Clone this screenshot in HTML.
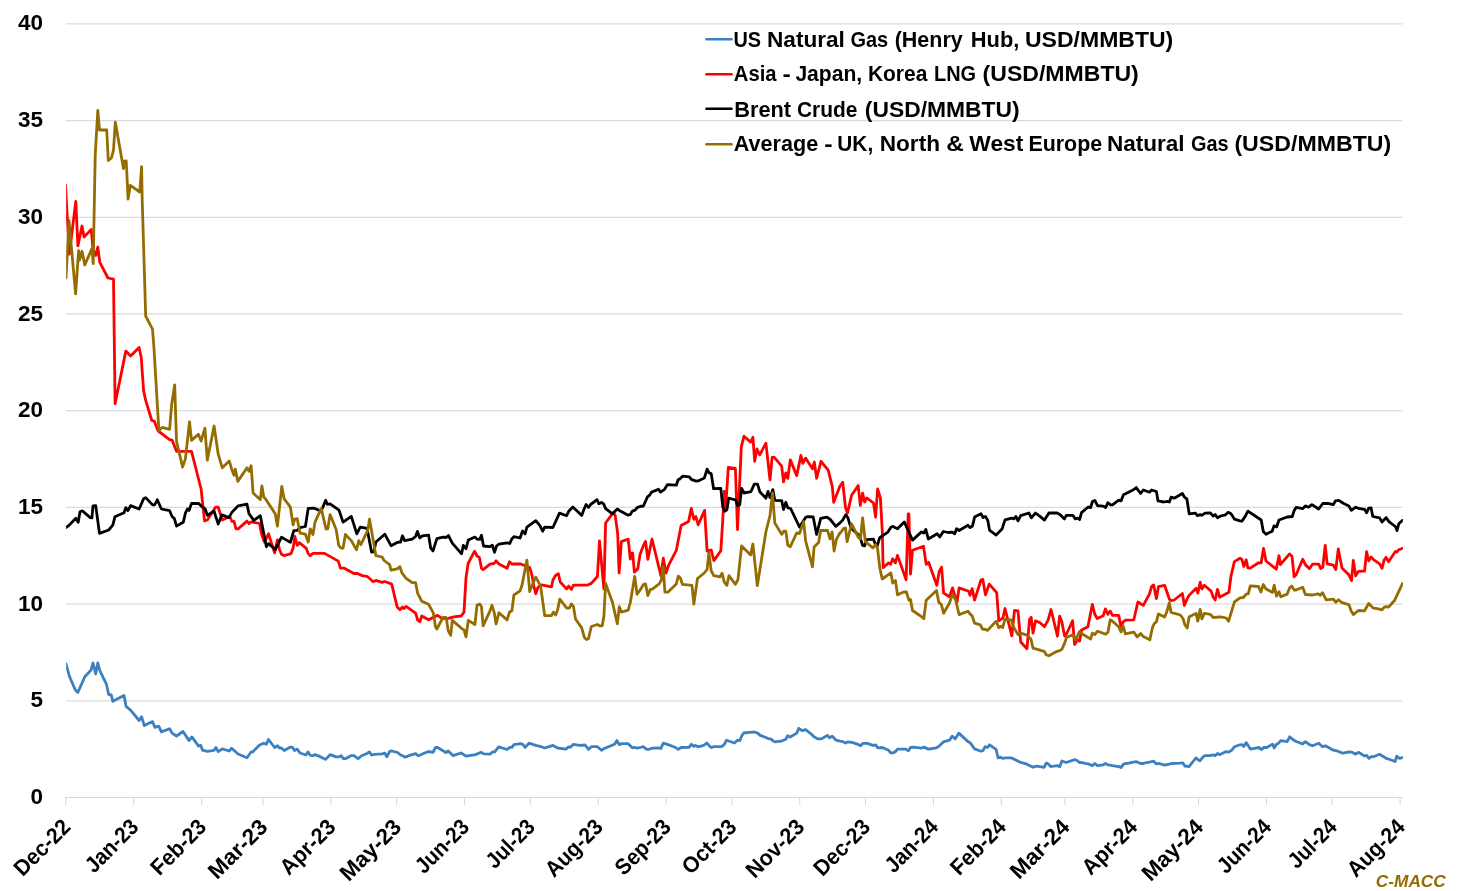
<!DOCTYPE html>
<html lang="en"><head><meta charset="utf-8"><title>Natural gas and crude prices (USD/MMBTU)</title>
<style>html,body{margin:0;padding:0;background:#fff}body{width:1463px;height:891px;overflow:hidden}svg{display:block}text{font-family:"Liberation Sans",Arial,sans-serif;font-weight:bold}</style></head><body>
<svg width="1463" height="891" viewBox="0 0 1463 891">
<rect width="1463" height="891" fill="#fff"/>
<g stroke="#dbdbdb" stroke-width="1.25" fill="none">
<line x1="65.75" y1="700.75" x2="1402.50" y2="700.75"/>
<line x1="65.75" y1="604.05" x2="1402.50" y2="604.05"/>
<line x1="65.75" y1="507.35" x2="1402.50" y2="507.35"/>
<line x1="65.75" y1="410.65" x2="1402.50" y2="410.65"/>
<line x1="65.75" y1="313.95" x2="1402.50" y2="313.95"/>
<line x1="65.75" y1="217.25" x2="1402.50" y2="217.25"/>
<line x1="65.75" y1="120.55" x2="1402.50" y2="120.55"/>
<line x1="65.75" y1="23.85" x2="1402.50" y2="23.85"/>
</g>
<g stroke="#d8d8d8" stroke-width="1.05" fill="none">
<line x1="65.75" y1="797.45" x2="1402.50" y2="797.45"/>
<line x1="65.75" y1="797.45" x2="65.75" y2="804.95"/>
<line x1="133.67" y1="797.45" x2="133.67" y2="804.95"/>
<line x1="201.60" y1="797.45" x2="201.60" y2="804.95"/>
<line x1="262.94" y1="797.45" x2="262.94" y2="804.95"/>
<line x1="330.87" y1="797.45" x2="330.87" y2="804.95"/>
<line x1="396.60" y1="797.45" x2="396.60" y2="804.95"/>
<line x1="464.52" y1="797.45" x2="464.52" y2="804.95"/>
<line x1="530.25" y1="797.45" x2="530.25" y2="804.95"/>
<line x1="598.18" y1="797.45" x2="598.18" y2="804.95"/>
<line x1="666.10" y1="797.45" x2="666.10" y2="804.95"/>
<line x1="731.83" y1="797.45" x2="731.83" y2="804.95"/>
<line x1="799.75" y1="797.45" x2="799.75" y2="804.95"/>
<line x1="865.48" y1="797.45" x2="865.48" y2="804.95"/>
<line x1="933.41" y1="797.45" x2="933.41" y2="804.95"/>
<line x1="1001.33" y1="797.45" x2="1001.33" y2="804.95"/>
<line x1="1064.87" y1="797.45" x2="1064.87" y2="804.95"/>
<line x1="1132.79" y1="797.45" x2="1132.79" y2="804.95"/>
<line x1="1198.52" y1="797.45" x2="1198.52" y2="804.95"/>
<line x1="1266.45" y1="797.45" x2="1266.45" y2="804.95"/>
<line x1="1332.18" y1="797.45" x2="1332.18" y2="804.95"/>
<line x1="1400.10" y1="797.45" x2="1400.10" y2="804.95"/>
</g>
<g font-size="22.5" text-anchor="end" fill="#000">
<text x="43.1" y="804.05">0</text>
<text x="43.1" y="707.35">5</text>
<text x="43.1" y="610.65">10</text>
<text x="43.1" y="513.95">15</text>
<text x="43.1" y="417.25">20</text>
<text x="43.1" y="320.55">25</text>
<text x="43.1" y="223.85">30</text>
<text x="43.1" y="127.15">35</text>
<text x="43.1" y="30.45">40</text>
</g>
<g font-size="22.3" text-anchor="end" fill="#000">
<text transform="translate(71.75 828.30) rotate(-45)" textLength="69.2" lengthAdjust="spacingAndGlyphs">Dec-22</text>
<text transform="translate(139.67 828.30) rotate(-45)" textLength="64.7" lengthAdjust="spacingAndGlyphs">Jan-23</text>
<text transform="translate(207.60 828.30) rotate(-45)" textLength="68.0" lengthAdjust="spacingAndGlyphs">Feb-23</text>
<text transform="translate(268.94 828.30) rotate(-45)" textLength="73.3" lengthAdjust="spacingAndGlyphs">Mar-23</text>
<text transform="translate(336.87 828.30) rotate(-45)" textLength="67.9" lengthAdjust="spacingAndGlyphs">Apr-23</text>
<text transform="translate(402.60 828.30) rotate(-45)" textLength="76.2" lengthAdjust="spacingAndGlyphs">May-23</text>
<text transform="translate(470.52 828.30) rotate(-45)" textLength="65.7" lengthAdjust="spacingAndGlyphs">Jun-23</text>
<text transform="translate(536.25 828.30) rotate(-45)" textLength="58.7" lengthAdjust="spacingAndGlyphs">Jul-23</text>
<text transform="translate(604.18 828.30) rotate(-45)" textLength="70.8" lengthAdjust="spacingAndGlyphs">Aug-23</text>
<text transform="translate(672.10 828.30) rotate(-45)" textLength="68.3" lengthAdjust="spacingAndGlyphs">Sep-23</text>
<text transform="translate(737.83 828.30) rotate(-45)" textLength="66.6" lengthAdjust="spacingAndGlyphs">Oct-23</text>
<text transform="translate(805.75 828.30) rotate(-45)" textLength="72.1" lengthAdjust="spacingAndGlyphs">Nov-23</text>
<text transform="translate(871.48 828.30) rotate(-45)" textLength="69.2" lengthAdjust="spacingAndGlyphs">Dec-23</text>
<text transform="translate(939.41 828.30) rotate(-45)" textLength="64.7" lengthAdjust="spacingAndGlyphs">Jan-24</text>
<text transform="translate(1007.33 828.30) rotate(-45)" textLength="68.0" lengthAdjust="spacingAndGlyphs">Feb-24</text>
<text transform="translate(1070.87 828.30) rotate(-45)" textLength="73.3" lengthAdjust="spacingAndGlyphs">Mar-24</text>
<text transform="translate(1138.79 828.30) rotate(-45)" textLength="67.9" lengthAdjust="spacingAndGlyphs">Apr-24</text>
<text transform="translate(1204.52 828.30) rotate(-45)" textLength="76.2" lengthAdjust="spacingAndGlyphs">May-24</text>
<text transform="translate(1272.45 828.30) rotate(-45)" textLength="65.7" lengthAdjust="spacingAndGlyphs">Jun-24</text>
<text transform="translate(1338.18 828.30) rotate(-45)" textLength="58.7" lengthAdjust="spacingAndGlyphs">Jul-24</text>
<text transform="translate(1406.10 828.30) rotate(-45)" textLength="70.8" lengthAdjust="spacingAndGlyphs">Aug-24</text>
</g>
<defs><clipPath id="plot"><rect x="66.15" y="0" width="1336.75" height="891"/></clipPath></defs>
<g clip-path="url(#plot)" fill="none" stroke-width="2.8" stroke-linejoin="round" stroke-linecap="round">
<path stroke="#3B80C0" d="M66.0 663.7 L69.3 676.0 L75.2 689.7 L77.9 692.4 L84.8 676.7 L90.9 670.3 L93.0 663.0 L95.7 674.0 L97.8 663.0 L99.8 670.5 L106.4 684.2 L108.7 694.5 L111.2 694.8 L112.8 701.3 L124.0 695.5 L126.1 706.4 L130.6 710.2 L139.1 720.5 L141.6 716.8 L144.3 725.6 L152.5 721.6 L154.8 727.3 L158.7 726.2 L161.4 731.9 L169.6 728.7 L172.1 733.1 L176.5 736.0 L183.0 731.5 L189.1 740.6 L191.8 736.9 L198.6 746.2 L200.8 745.4 L202.5 750.2 L207.3 751.3 L214.1 750.3 L215.9 747.5 L218.2 751.7 L222.3 748.8 L229.2 751.0 L231.6 748.3 L238.1 754.0 L247.0 757.7 L251.1 752.0 L252.7 751.9 L259.6 745.0 L263.7 743.2 L266.4 744.3 L268.5 739.5 L274.6 747.5 L277.4 745.7 L279.4 748.0 L281.5 748.0 L284.2 750.5 L290.4 747.1 L292.7 747.5 L294.5 750.5 L297.2 749.1 L300.0 753.0 L305.9 755.0 L307.9 751.9 L310.2 755.3 L313.0 755.7 L315.0 754.6 L319.8 756.4 L325.7 759.4 L330.1 754.6 L336.2 756.9 L339.0 756.9 L341.0 755.7 L343.4 758.7 L345.4 758.7 L351.3 755.6 L354.0 755.6 L358.1 758.7 L361.6 755.7 L367.0 753.5 L369.4 751.9 L371.6 755.0 L374.6 754.3 L382.1 753.9 L384.8 753.2 L386.9 756.7 L389.6 751.5 L391.3 750.9 L397.6 752.5 L400.6 755.0 L402.6 755.7 L404.7 757.1 L406.7 756.7 L408.8 755.6 L415.6 753.6 L417.7 755.6 L419.8 755.3 L423.9 753.2 L428.6 751.5 L433.0 752.3 L435.5 747.5 L437.5 747.5 L446.0 752.5 L448.2 750.9 L448.5 751.2 L453.0 755.6 L461.2 753.0 L466.0 756.2 L475.6 754.6 L481.1 752.3 L483.8 753.9 L490.0 754.2 L492.7 751.9 L494.8 751.9 L498.6 746.8 L507.1 749.5 L509.8 747.4 L511.9 747.4 L513.9 744.6 L520.8 743.7 L522.8 744.3 L525.1 747.4 L529.0 743.2 L535.8 745.4 L541.3 746.7 L544.7 748.0 L552.9 745.4 L557.7 748.0 L565.9 749.1 L568.7 746.8 L570.7 747.1 L573.1 744.3 L579.6 745.3 L585.1 745.0 L588.5 749.4 L591.3 746.7 L597.4 746.7 L601.5 750.2 L604.3 748.5 L614.5 744.3 L617.0 740.6 L619.3 744.6 L622.1 743.7 L628.2 743.7 L632.3 747.8 L635.1 747.4 L637.1 748.2 L640.0 747.5 L643.4 746.7 L646.2 749.1 L648.2 749.5 L652.3 748.2 L658.5 747.8 L660.9 748.5 L663.3 743.2 L668.1 744.6 L675.6 747.5 L678.1 749.4 L681.1 747.5 L689.0 747.4 L691.3 744.3 L693.8 746.4 L695.4 745.4 L698.2 746.8 L703.7 745.4 L706.8 743.0 L709.8 746.4 L711.5 747.5 L713.9 746.7 L721.5 746.7 L724.2 744.6 L726.5 740.2 L734.5 743.0 L737.5 740.2 L739.9 740.6 L742.0 735.4 L743.8 733.0 L749.5 732.3 L754.3 732.0 L757.7 733.1 L760.2 735.4 L765.9 737.5 L768.0 738.6 L770.7 738.9 L773.1 740.9 L774.8 741.9 L781.0 741.2 L785.8 739.3 L787.6 735.7 L789.9 737.2 L796.7 733.1 L798.8 728.3 L802.2 730.6 L805.6 729.7 L811.8 734.5 L813.9 736.8 L818.0 738.9 L821.4 738.9 L827.5 735.4 L829.6 737.8 L832.3 736.1 L836.0 740.2 L840.0 741.2 L842.7 741.6 L845.5 743.0 L847.5 741.9 L853.0 742.7 L857.8 744.3 L860.5 745.7 L863.0 743.4 L867.4 743.4 L872.9 745.4 L875.9 745.0 L877.6 747.8 L882.4 747.5 L888.6 750.2 L890.6 752.8 L893.4 752.8 L895.9 751.2 L897.5 749.1 L905.7 749.1 L908.5 750.8 L910.5 747.5 L913.2 747.1 L921.5 748.2 L923.8 747.1 L928.3 749.1 L936.5 747.8 L939.2 746.1 L943.4 741.9 L949.5 740.2 L952.2 736.1 L955.3 738.9 L958.8 733.1 L968.0 741.6 L970.0 742.7 L974.6 748.9 L981.0 751.2 L983.0 750.5 L985.1 746.7 L987.6 747.5 L989.5 744.8 L996.1 749.4 L998.1 758.0 L1000.2 757.1 L1002.6 758.4 L1005.6 757.8 L1011.1 757.8 L1020.7 762.4 L1026.9 764.2 L1033.0 767.3 L1035.8 766.2 L1040.0 766.6 L1044.1 767.3 L1046.2 763.1 L1048.2 763.9 L1050.7 766.5 L1053.7 766.2 L1057.5 765.6 L1059.8 766.6 L1061.9 761.0 L1066.0 762.5 L1074.9 759.7 L1077.2 760.5 L1079.4 762.5 L1081.5 762.4 L1083.8 763.2 L1087.9 763.8 L1092.3 765.6 L1094.8 763.5 L1097.5 765.6 L1103.2 764.9 L1105.4 763.5 L1108.0 764.9 L1111.2 765.3 L1115.3 766.2 L1118.7 766.5 L1121.0 767.6 L1123.5 764.2 L1125.6 763.5 L1129.0 763.2 L1131.7 762.4 L1136.5 761.7 L1140.6 763.5 L1143.3 763.5 L1146.8 762.5 L1149.5 762.1 L1153.6 761.2 L1156.1 763.8 L1159.1 763.5 L1164.6 765.1 L1169.4 764.2 L1171.4 763.5 L1180.3 763.2 L1182.8 762.8 L1184.8 766.0 L1189.2 766.5 L1195.8 758.0 L1199.9 760.8 L1202.9 757.1 L1205.0 755.7 L1209.8 755.6 L1213.2 754.9 L1215.2 755.6 L1217.5 753.5 L1220.0 754.6 L1226.2 751.6 L1228.6 752.1 L1231.7 750.2 L1234.4 746.8 L1240.0 744.8 L1242.0 744.6 L1243.8 746.4 L1246.2 742.6 L1250.3 749.1 L1259.2 747.5 L1261.2 749.5 L1264.0 747.5 L1266.7 747.5 L1272.6 744.1 L1274.2 748.0 L1276.5 744.3 L1278.3 743.4 L1280.8 740.6 L1287.2 741.6 L1289.6 736.8 L1294.8 740.9 L1297.5 742.0 L1302.7 743.9 L1305.4 741.6 L1309.8 744.8 L1312.5 745.7 L1318.7 743.2 L1322.5 746.8 L1325.3 745.7 L1329.0 747.8 L1333.4 750.2 L1337.9 751.2 L1342.7 753.2 L1349.5 751.9 L1351.6 752.1 L1355.7 754.2 L1358.4 752.3 L1364.6 756.0 L1366.6 755.3 L1369.0 758.4 L1371.4 756.7 L1373.5 756.7 L1379.6 754.3 L1386.1 758.3 L1388.5 759.0 L1395.1 761.5 L1396.7 756.2 L1399.5 758.3 L1402.5 757.6"/>
<path stroke="#FF0000" d="M65.6 184.9 L66.3 200.0 L69.3 254.1 L75.8 201.4 L77.9 245.9 L82.0 226.0 L84.1 237.0 L91.3 229.4 L93.0 249.3 L95.7 255.4 L97.8 247.2 L99.8 262.3 L108.0 278.0 L113.5 279.1 L115.1 403.8 L125.8 351.1 L130.6 355.9 L139.1 347.6 L141.2 357.2 L143.6 390.8 L145.7 400.4 L151.8 420.5 L154.3 421.2 L158.0 430.8 L169.6 439.7 L172.1 440.1 L176.5 451.3 L191.5 451.3 L201.1 489.0 L204.5 520.9 L207.3 520.0 L215.5 507.2 L218.2 507.2 L222.3 520.0 L229.8 516.5 L231.9 521.3 L234.0 521.3 L236.0 528.9 L238.1 528.9 L247.0 521.1 L249.0 523.7 L251.1 521.8 L259.6 523.5 L261.6 534.5 L264.4 542.0 L268.5 533.8 L274.6 552.9 L277.4 539.9 L279.4 549.5 L281.5 554.3 L284.2 555.7 L291.1 553.6 L293.1 548.1 L294.9 536.5 L297.2 545.4 L299.3 542.7 L306.1 548.1 L308.2 553.6 L310.2 555.7 L313.0 553.4 L324.6 553.4 L338.3 561.1 L340.4 568.1 L343.8 568.1 L354.0 573.5 L357.5 573.5 L362.2 575.6 L367.0 576.3 L373.2 581.8 L375.9 580.4 L382.1 582.4 L384.8 581.5 L391.7 584.1 L397.2 607.1 L399.9 609.8 L402.6 607.1 L404.0 608.5 L406.1 606.4 L415.6 613.2 L417.7 620.1 L419.8 621.7 L421.8 616.0 L428.6 619.8 L437.5 615.3 L442.3 618.7 L448.2 618.3 L453.7 616.9 L461.2 616.0 L464.0 612.1 L466.0 577.9 L468.1 563.5 L474.6 551.2 L477.0 556.0 L479.4 557.4 L481.5 568.3 L483.1 569.7 L490.0 564.2 L494.1 563.5 L496.1 560.8 L498.9 564.0 L507.1 568.3 L509.5 561.8 L511.9 564.0 L520.8 564.0 L529.7 567.6 L532.0 575.2 L533.8 586.1 L535.8 593.7 L537.9 587.5 L541.3 584.8 L551.6 586.8 L552.9 580.0 L555.7 575.2 L558.4 573.8 L560.2 582.0 L566.6 588.9 L568.7 586.1 L571.4 589.5 L573.5 585.2 L587.2 585.2 L591.3 583.4 L597.4 576.5 L599.5 541.0 L603.9 588.9 L605.6 523.0 L613.2 512.7 L615.2 515.4 L617.7 533.9 L619.1 572.9 L621.4 541.5 L628.2 539.1 L630.3 559.2 L631.0 553.1 L632.6 553.1 L634.4 572.2 L637.8 568.8 L640.0 554.5 L643.4 545.6 L645.5 541.5 L647.9 559.3 L652.0 539.0 L660.9 575.7 L663.3 558.2 L666.0 573.0 L668.8 564.8 L676.3 550.4 L681.1 525.5 L688.6 521.4 L691.3 508.4 L693.8 519.3 L695.9 516.6 L698.2 524.8 L704.6 510.4 L707.1 551.1 L711.2 550.0 L713.9 560.6 L720.8 550.8 L722.8 519.6 L724.2 491.4 L725.6 508.5 L728.3 467.4 L735.4 468.5 L737.5 529.7 L741.3 446.9 L744.0 436.2 L750.6 442.1 L752.9 437.3 L754.7 461.3 L757.0 449.0 L759.8 454.8 L765.9 443.2 L770.0 479.8 L772.1 457.4 L774.1 457.2 L781.7 466.1 L783.5 481.8 L785.8 472.9 L787.8 478.4 L790.3 459.9 L796.7 475.6 L800.9 455.4 L802.9 463.3 L805.6 458.1 L812.5 468.8 L814.3 462.0 L816.6 478.4 L821.0 461.3 L828.2 470.2 L832.3 486.6 L833.7 502.3 L840.0 485.9 L840.0 486.3 L842.7 482.2 L845.5 507.5 L847.5 513.0 L851.6 495.2 L858.2 485.6 L860.3 505.4 L862.6 493.1 L864.6 502.0 L866.7 497.9 L873.5 503.0 L875.6 517.1 L877.6 489.0 L880.4 497.9 L882.4 533.5 L883.1 567.7 L888.6 562.9 L890.6 564.3 L892.7 558.8 L895.4 562.9 L897.5 555.4 L906.1 579.7 L908.2 514.0 L908.9 514.0 L910.5 574.2 L912.5 550.3 L923.5 546.2 L926.2 564.4 L928.6 562.3 L936.8 585.2 L939.2 571.5 L941.6 567.1 L943.6 593.1 L949.5 596.8 L952.5 587.9 L957.0 602.3 L959.1 587.9 L968.7 591.3 L970.0 595.4 L972.1 588.6 L974.6 600.2 L981.0 580.0 L982.8 579.4 L985.5 594.8 L989.2 584.1 L996.7 592.7 L998.8 620.8 L1002.9 618.0 L1005.0 608.5 L1011.8 635.8 L1014.5 610.5 L1018.0 610.8 L1020.7 642.0 L1026.9 648.8 L1029.6 619.4 L1031.2 617.3 L1033.0 633.1 L1035.5 620.8 L1040.0 622.8 L1044.5 626.7 L1048.2 619.8 L1051.0 609.5 L1057.5 636.2 L1059.6 616.1 L1061.9 621.9 L1064.6 636.0 L1066.7 633.5 L1072.6 620.8 L1074.6 644.5 L1077.7 639.7 L1079.7 641.0 L1081.5 630.1 L1087.9 626.7 L1092.3 604.4 L1094.8 614.3 L1097.2 618.5 L1103.2 615.7 L1105.4 608.9 L1107.8 614.3 L1110.2 611.2 L1112.5 615.4 L1118.7 615.4 L1121.0 626.7 L1123.2 621.9 L1125.6 620.2 L1133.8 619.8 L1137.9 602.0 L1143.3 605.4 L1149.5 593.8 L1151.6 586.3 L1153.6 584.9 L1156.4 598.6 L1158.4 586.7 L1164.6 585.3 L1169.4 599.3 L1171.4 600.6 L1174.2 600.0 L1182.4 593.5 L1184.4 605.4 L1187.2 598.6 L1189.2 595.2 L1196.1 588.3 L1197.8 593.1 L1200.2 582.2 L1201.9 589.0 L1204.3 585.3 L1211.1 591.1 L1213.2 597.2 L1215.2 600.0 L1217.5 589.3 L1219.6 597.2 L1228.9 592.2 L1231.0 576.0 L1234.4 561.6 L1240.0 558.2 L1242.0 559.7 L1243.8 566.5 L1246.2 559.7 L1247.9 567.9 L1250.3 568.1 L1258.5 562.8 L1261.2 562.8 L1263.5 548.4 L1266.0 561.0 L1276.3 569.2 L1279.0 555.6 L1280.4 564.5 L1289.6 553.9 L1292.0 556.2 L1294.1 576.8 L1296.1 574.7 L1302.7 559.2 L1305.7 565.1 L1309.5 568.6 L1312.5 564.2 L1318.7 564.2 L1320.8 568.6 L1322.8 567.2 L1325.2 545.3 L1327.2 563.8 L1333.4 565.1 L1335.8 569.5 L1338.3 549.0 L1342.0 567.9 L1348.8 574.7 L1351.6 580.6 L1353.3 560.4 L1355.7 575.8 L1358.4 571.3 L1364.6 571.0 L1366.6 551.7 L1368.7 560.8 L1371.1 556.9 L1373.5 559.7 L1379.6 563.8 L1382.0 568.3 L1384.0 560.4 L1386.1 557.3 L1388.5 561.7 L1395.4 551.5 L1397.0 551.9 L1398.8 549.7 L1402.5 548.4"/>
<path stroke="#000000" d="M66.0 527.5 L69.0 525.4 L75.8 518.2 L78.2 522.3 L80.0 511.8 L82.3 510.8 L90.2 517.6 L91.9 517.9 L93.0 505.9 L95.7 505.6 L99.5 533.4 L108.7 530.0 L112.8 525.2 L114.9 516.8 L124.0 512.7 L125.8 507.6 L127.9 510.7 L130.6 505.6 L139.1 509.0 L143.6 498.8 L145.7 497.6 L152.5 504.9 L154.6 504.9 L157.3 499.8 L161.4 509.0 L169.6 510.7 L172.1 516.5 L174.4 518.6 L176.5 526.1 L183.3 522.3 L185.4 513.1 L187.4 509.0 L189.1 510.4 L191.5 503.5 L198.4 503.3 L202.5 507.2 L205.2 509.0 L207.3 515.2 L214.1 511.3 L218.2 524.1 L221.9 514.9 L228.8 517.6 L231.9 512.4 L238.1 505.9 L247.0 504.2 L249.0 513.8 L253.8 520.4 L260.3 515.7 L266.4 546.8 L268.5 543.6 L275.3 549.5 L281.5 537.2 L290.4 542.4 L293.8 530.6 L297.2 530.4 L300.0 527.6 L305.4 526.5 L308.2 508.4 L314.3 508.2 L321.2 511.2 L325.7 500.2 L327.3 504.3 L330.1 503.9 L339.0 510.2 L343.1 522.1 L351.3 516.4 L356.8 533.8 L360.2 527.2 L367.0 528.3 L371.6 552.2 L373.9 551.6 L375.9 542.0 L384.8 534.2 L391.0 545.7 L397.2 542.4 L400.6 542.0 L402.4 535.8 L404.7 540.6 L412.2 539.2 L415.6 536.5 L417.4 531.4 L419.8 537.9 L422.5 535.8 L428.6 535.1 L430.7 548.1 L433.0 550.9 L436.9 538.6 L443.0 537.2 L445.8 537.5 L448.5 535.5 L448.5 535.6 L452.3 543.1 L461.6 553.8 L463.3 545.3 L466.0 548.7 L468.3 540.1 L474.9 537.1 L477.0 539.1 L479.7 539.4 L481.5 535.3 L483.5 546.0 L490.0 546.6 L492.4 545.3 L494.5 552.4 L496.5 546.0 L498.9 544.2 L507.1 542.8 L509.8 543.5 L511.9 538.7 L513.9 536.7 L520.1 538.0 L522.5 530.9 L525.1 533.9 L526.9 527.1 L535.8 520.6 L539.9 525.7 L542.7 531.2 L544.7 527.1 L552.9 527.5 L559.5 513.1 L566.6 515.7 L568.7 511.3 L572.8 506.9 L581.7 515.4 L583.7 510.0 L586.1 504.5 L588.5 507.5 L590.6 504.5 L597.1 499.7 L598.8 503.8 L601.5 502.4 L603.6 503.8 L605.6 508.6 L612.5 513.8 L617.3 509.0 L620.7 511.3 L628.2 515.2 L630.3 514.5 L632.3 511.1 L635.1 510.2 L637.1 507.6 L640.0 506.5 L643.4 506.0 L647.5 496.9 L649.6 495.2 L651.6 492.1 L658.5 489.3 L660.5 492.1 L664.6 489.3 L667.4 484.6 L676.3 485.2 L678.1 479.8 L679.7 479.1 L682.9 476.1 L689.3 476.8 L691.3 479.4 L696.1 481.1 L698.2 480.9 L704.3 478.1 L707.1 469.1 L709.1 472.9 L711.2 473.6 L713.6 488.7 L720.8 488.4 L722.8 507.1 L724.9 511.2 L726.9 509.9 L728.7 498.2 L735.8 500.0 L737.6 505.8 L739.7 504.8 L741.6 488.4 L744.0 493.0 L750.9 491.7 L754.3 484.1 L757.5 484.1 L759.8 491.7 L765.9 498.2 L768.0 491.4 L770.0 497.6 L772.8 489.6 L774.8 500.3 L781.7 500.6 L783.5 509.6 L785.8 502.3 L787.8 507.8 L790.6 508.5 L799.5 527.0 L805.6 517.4 L807.7 516.7 L813.2 517.0 L816.6 534.5 L820.7 518.4 L826.9 517.1 L830.3 519.5 L835.8 526.3 L840.0 522.9 L842.7 520.1 L845.8 514.6 L847.9 517.8 L851.0 528.0 L859.2 535.6 L860.8 539.7 L862.6 545.4 L864.6 545.8 L866.4 539.7 L873.5 539.2 L874.9 543.1 L877.0 546.5 L879.7 537.6 L887.9 532.1 L890.9 527.3 L893.0 526.4 L897.5 528.7 L904.3 521.9 L912.5 540.1 L921.5 531.9 L923.8 533.1 L925.8 529.4 L928.3 539.0 L937.2 533.8 L939.7 536.9 L943.4 531.5 L948.1 532.5 L952.2 532.1 L954.7 533.8 L956.6 528.7 L959.1 530.5 L968.0 525.3 L970.0 527.6 L972.5 526.0 L974.6 517.1 L981.0 513.7 L983.0 517.5 L985.4 516.4 L987.8 520.5 L989.5 530.1 L996.1 535.1 L1002.2 528.7 L1005.0 519.8 L1011.8 518.2 L1013.9 518.9 L1015.9 516.4 L1018.0 520.8 L1020.7 515.7 L1028.9 513.0 L1031.4 517.8 L1035.5 513.0 L1040.0 516.4 L1044.5 520.1 L1048.9 513.0 L1057.1 513.0 L1060.5 515.0 L1064.4 518.9 L1066.4 515.3 L1072.8 515.3 L1075.3 518.9 L1077.7 518.2 L1079.7 519.5 L1081.5 512.6 L1087.9 507.2 L1090.7 507.5 L1092.3 501.8 L1094.8 500.4 L1097.5 505.7 L1103.2 506.1 L1105.7 507.5 L1107.8 502.7 L1110.5 504.8 L1112.5 504.8 L1118.7 500.2 L1121.0 500.9 L1123.5 494.8 L1133.1 490.0 L1136.2 487.6 L1140.6 493.5 L1143.3 490.0 L1149.5 492.2 L1151.6 490.0 L1156.4 491.5 L1158.0 500.9 L1163.9 502.0 L1167.3 501.3 L1169.4 502.0 L1171.1 497.2 L1174.2 498.2 L1182.4 493.5 L1184.4 497.2 L1186.9 499.0 L1189.2 513.9 L1195.4 513.2 L1197.4 515.7 L1200.2 514.6 L1201.8 515.3 L1205.0 513.2 L1210.4 513.0 L1213.2 516.1 L1215.2 514.6 L1217.5 517.8 L1220.7 516.0 L1225.5 514.8 L1228.2 512.3 L1231.0 513.7 L1234.4 519.1 L1240.0 520.9 L1242.0 521.1 L1245.5 515.9 L1247.9 511.1 L1261.2 520.0 L1263.3 531.6 L1266.0 534.3 L1272.2 531.2 L1274.0 525.9 L1276.7 526.8 L1279.0 520.0 L1287.2 517.0 L1292.3 516.5 L1294.1 510.7 L1296.1 507.4 L1302.7 508.7 L1305.4 505.9 L1308.5 507.2 L1311.9 504.6 L1318.7 509.0 L1322.8 503.5 L1327.6 503.3 L1333.4 504.6 L1335.4 500.8 L1338.8 500.4 L1343.3 503.3 L1348.8 505.9 L1351.3 510.4 L1355.7 507.2 L1358.4 508.3 L1364.6 509.4 L1366.6 512.9 L1368.7 508.1 L1371.1 507.9 L1372.8 516.5 L1379.6 517.9 L1382.0 522.0 L1386.1 517.6 L1389.2 521.8 L1395.4 526.5 L1397.0 530.6 L1398.8 523.8 L1402.5 520.4"/>
<path stroke="#946C00" d="M66.0 278.0 L69.0 220.5 L75.6 293.8 L78.6 250.7 L79.5 260.2 L82.0 251.3 L84.8 265.0 L91.9 248.6 L93.2 263.7 L95.2 155.7 L97.8 110.5 L99.5 130.0 L106.7 130.0 L108.3 160.5 L111.4 158.0 L113.5 150.2 L115.3 122.2 L123.5 168.7 L124.0 161.2 L126.2 160.8 L128.1 199.1 L130.3 185.4 L139.8 192.0 L141.6 166.7 L142.2 199.9 L145.7 316.2 L152.5 329.2 L153.9 347.0 L158.9 430.8 L162.1 427.4 L169.6 429.4 L171.7 404.1 L174.7 384.9 L176.5 441.1 L182.6 467.1 L185.4 458.9 L189.5 421.9 L191.5 440.4 L198.4 434.2 L201.1 441.1 L204.9 428.1 L207.3 460.2 L214.1 426.0 L218.2 454.1 L222.3 467.8 L229.2 460.9 L231.9 469.8 L234.0 475.3 L235.3 469.1 L237.8 481.4 L247.0 467.8 L249.0 471.2 L251.1 465.7 L253.1 493.1 L256.0 495.8 L260.3 499.6 L261.9 485.9 L263.7 496.8 L266.4 500.2 L275.3 513.9 L277.4 526.2 L281.8 486.5 L284.2 498.9 L290.4 507.1 L293.1 524.9 L294.5 519.4 L297.2 518.7 L300.0 533.1 L305.4 534.2 L308.2 542.0 L310.2 529.0 L313.0 534.5 L315.0 522.1 L321.2 508.4 L326.0 529.0 L327.8 528.7 L330.1 514.6 L336.2 529.7 L338.7 545.4 L341.0 548.1 L343.1 548.1 L345.4 534.5 L351.3 540.6 L356.5 549.9 L358.8 540.6 L360.9 544.7 L367.7 530.4 L369.5 519.1 L375.9 555.7 L382.1 557.0 L384.1 560.5 L389.6 564.6 L391.0 570.1 L397.2 568.8 L399.9 566.7 L401.9 572.9 L406.1 578.3 L412.2 582.7 L415.6 582.7 L417.7 593.4 L421.8 601.3 L428.6 604.3 L433.4 613.2 L435.5 626.9 L436.9 629.0 L443.0 617.3 L445.8 617.3 L446.2 617.6 L448.2 630.6 L450.7 635.4 L452.3 620.4 L461.9 628.6 L464.0 629.9 L466.0 636.8 L468.3 620.4 L474.9 624.5 L477.0 605.3 L479.7 603.9 L481.5 606.7 L483.1 625.8 L490.0 610.8 L492.0 605.3 L494.1 612.1 L496.1 623.8 L498.9 612.8 L507.1 619.9 L509.5 612.1 L511.9 610.8 L513.9 595.0 L520.1 590.9 L522.1 584.8 L526.9 560.1 L529.7 591.6 L533.8 581.3 L535.8 577.2 L540.6 586.1 L544.7 615.6 L551.6 615.6 L553.4 612.1 L555.7 614.9 L557.7 609.4 L559.8 599.1 L566.6 608.0 L569.4 608.0 L571.4 603.9 L573.5 606.7 L575.5 619.0 L581.7 627.9 L584.4 637.5 L586.5 639.5 L588.5 638.8 L591.3 626.5 L597.4 624.5 L599.5 625.8 L602.2 625.8 L603.9 616.2 L605.6 583.4 L612.5 602.5 L617.3 623.8 L619.3 606.7 L621.4 612.1 L628.2 610.1 L630.3 602.5 L634.7 576.5 L637.1 594.3 L640.0 590.2 L643.4 584.6 L645.5 583.9 L647.9 595.6 L650.3 589.4 L652.3 589.1 L659.2 583.9 L661.2 580.5 L663.3 566.8 L664.9 592.1 L668.1 592.1 L676.3 583.9 L678.3 576.1 L680.4 578.0 L682.4 584.3 L692.0 585.3 L693.8 604.2 L697.5 578.5 L704.3 573.0 L707.1 569.5 L708.9 552.4 L711.2 570.9 L713.9 575.7 L720.1 576.8 L722.1 573.2 L724.2 581.9 L726.9 585.3 L729.0 575.7 L735.4 584.3 L737.9 579.8 L741.6 545.9 L750.6 554.9 L752.9 544.0 L757.3 585.7 L765.9 531.9 L770.0 515.5 L772.5 492.9 L774.8 523.0 L781.7 534.4 L783.7 531.2 L785.8 531.2 L787.8 545.3 L790.3 546.7 L796.7 533.0 L799.5 533.5 L803.6 521.6 L805.6 540.8 L812.5 566.8 L814.1 547.0 L818.6 542.4 L820.7 530.5 L827.5 530.5 L830.0 538.8 L832.1 531.9 L834.1 551.1 L836.4 539.4 L840.0 532.6 L840.0 533.5 L843.4 528.7 L845.5 528.0 L847.1 541.7 L851.6 523.9 L858.5 537.6 L860.5 539.0 L862.6 517.8 L865.3 541.7 L872.9 547.9 L875.6 544.5 L877.6 548.6 L879.7 567.4 L882.2 579.0 L890.9 572.9 L892.7 583.1 L895.4 580.4 L897.5 594.8 L904.3 591.8 L906.4 592.0 L908.9 600.2 L910.5 599.5 L912.5 610.5 L921.5 616.7 L923.8 618.7 L926.2 600.2 L936.5 590.6 L938.8 602.3 L941.3 604.3 L943.6 613.2 L949.5 603.0 L952.5 594.1 L955.7 600.2 L959.1 614.6 L968.0 611.2 L970.0 613.9 L972.1 615.7 L974.6 623.2 L980.3 624.9 L982.4 629.0 L985.5 629.4 L987.6 630.4 L996.1 621.2 L998.8 627.6 L1000.9 626.2 L1002.6 627.6 L1005.0 619.4 L1011.1 619.8 L1013.9 627.6 L1018.0 634.5 L1020.7 633.1 L1026.9 635.1 L1031.0 639.2 L1033.0 648.1 L1040.0 650.2 L1044.5 651.7 L1046.2 654.7 L1048.9 655.7 L1057.1 651.3 L1059.8 650.6 L1061.9 649.2 L1064.6 643.1 L1066.7 637.3 L1072.8 634.9 L1075.6 639.7 L1079.7 631.5 L1081.8 633.8 L1090.7 639.0 L1092.3 633.2 L1094.8 634.5 L1097.5 631.2 L1103.2 633.2 L1105.7 634.2 L1108.0 632.1 L1110.2 619.8 L1112.5 621.2 L1118.7 626.7 L1121.0 631.9 L1123.2 626.0 L1125.3 633.9 L1133.8 632.1 L1137.2 636.9 L1140.6 633.5 L1143.3 636.6 L1149.9 639.7 L1152.5 627.3 L1154.3 623.5 L1156.4 621.9 L1158.4 613.9 L1164.6 617.1 L1166.6 612.3 L1169.4 602.7 L1171.0 612.3 L1180.3 615.0 L1183.0 618.5 L1184.8 624.6 L1187.2 628.0 L1189.2 616.7 L1196.1 613.4 L1197.8 621.2 L1200.2 609.3 L1201.9 618.9 L1204.3 613.4 L1210.4 614.3 L1213.2 617.5 L1220.7 616.8 L1226.2 618.0 L1228.6 621.2 L1234.4 602.0 L1240.0 597.9 L1243.4 597.5 L1246.2 594.1 L1248.2 593.8 L1250.3 585.9 L1258.5 586.5 L1260.9 592.0 L1263.3 584.5 L1266.0 589.0 L1272.6 592.4 L1274.2 585.2 L1276.5 596.1 L1279.0 591.8 L1280.8 596.8 L1287.2 594.1 L1289.6 587.9 L1291.8 586.1 L1294.1 590.0 L1296.1 590.0 L1302.7 587.2 L1305.4 594.5 L1312.5 595.0 L1318.0 593.8 L1320.4 595.2 L1322.5 592.7 L1326.2 599.8 L1333.4 599.1 L1335.8 602.3 L1338.6 599.8 L1342.0 602.7 L1348.8 604.6 L1351.3 611.2 L1353.3 614.6 L1358.4 610.5 L1364.6 610.8 L1368.7 603.4 L1372.8 607.8 L1379.6 609.1 L1382.0 609.8 L1384.0 607.4 L1386.1 606.7 L1388.5 607.1 L1394.7 600.2 L1402.5 583.5"/>
</g>
<g stroke-width="2.6" stroke-linecap="round" fill="none">
<line x1="706.5" y1="39.25" x2="731.5" y2="39.25" stroke="#3B80C0"/>
<line x1="706.5" y1="74.25" x2="731.5" y2="74.25" stroke="#FF0000"/>
<line x1="706.5" y1="108.75" x2="731.5" y2="108.75" stroke="#000000"/>
<line x1="706.5" y1="144.25" x2="731.5" y2="144.25" stroke="#946C00"/>
</g>
<g font-size="21.2" fill="#000">
<text y="46.50"><tspan x="733.5" textLength="27.6" lengthAdjust="spacingAndGlyphs">US</tspan> <tspan x="767.0" textLength="77.9" lengthAdjust="spacingAndGlyphs">Natural</tspan> <tspan x="850.4" textLength="37.7" lengthAdjust="spacingAndGlyphs">Gas</tspan> <tspan x="894.7" textLength="68.0" lengthAdjust="spacingAndGlyphs">(Henry</tspan> <tspan x="970.8" textLength="48.5" lengthAdjust="spacingAndGlyphs">Hub,</tspan> <tspan x="1025.0" textLength="148.3" lengthAdjust="spacingAndGlyphs">USD/MMBTU)</tspan></text>
<text y="81.40"><tspan x="733.8" textLength="42.7" lengthAdjust="spacingAndGlyphs">Asia</tspan> <tspan x="782.6" textLength="8.3" lengthAdjust="spacingAndGlyphs">-</tspan> <tspan x="795.4" textLength="66.8" lengthAdjust="spacingAndGlyphs">Japan,</tspan> <tspan x="867.9" textLength="59.5" lengthAdjust="spacingAndGlyphs">Korea</tspan> <tspan x="934.0" textLength="42.1" lengthAdjust="spacingAndGlyphs">LNG</tspan> <tspan x="982.6" textLength="156.2" lengthAdjust="spacingAndGlyphs">(USD/MMBTU)</tspan></text>
<text y="116.50"><tspan x="734.3" textLength="56.8" lengthAdjust="spacingAndGlyphs">Brent</tspan> <tspan x="797.0" textLength="60.5" lengthAdjust="spacingAndGlyphs">Crude</tspan> <tspan x="864.8" textLength="154.8" lengthAdjust="spacingAndGlyphs">(USD/MMBTU)</tspan></text>
<text y="151.40"><tspan x="733.8" textLength="84.4" lengthAdjust="spacingAndGlyphs">Average</tspan> <tspan x="824.2" textLength="8.4" lengthAdjust="spacingAndGlyphs">-</tspan> <tspan x="837.3" textLength="35.9" lengthAdjust="spacingAndGlyphs">UK,</tspan> <tspan x="879.7" textLength="60.3" lengthAdjust="spacingAndGlyphs">North</tspan> <tspan x="946.3" textLength="17.6" lengthAdjust="spacingAndGlyphs">&amp;</tspan> <tspan x="969.3" textLength="54.0" lengthAdjust="spacingAndGlyphs">West</tspan> <tspan x="1028.4" textLength="73.8" lengthAdjust="spacingAndGlyphs">Europe</tspan> <tspan x="1107.0" textLength="77.6" lengthAdjust="spacingAndGlyphs">Natural</tspan> <tspan x="1191.0" textLength="37.6" lengthAdjust="spacingAndGlyphs">Gas</tspan> <tspan x="1234.4" textLength="156.8" lengthAdjust="spacingAndGlyphs">(USD/MMBTU)</tspan></text>
</g>
<text x="1375.8" y="887.3" font-size="16.4" font-style="italic" fill="#946C00" textLength="70" lengthAdjust="spacingAndGlyphs">C-MACC</text>
</svg></body></html>
